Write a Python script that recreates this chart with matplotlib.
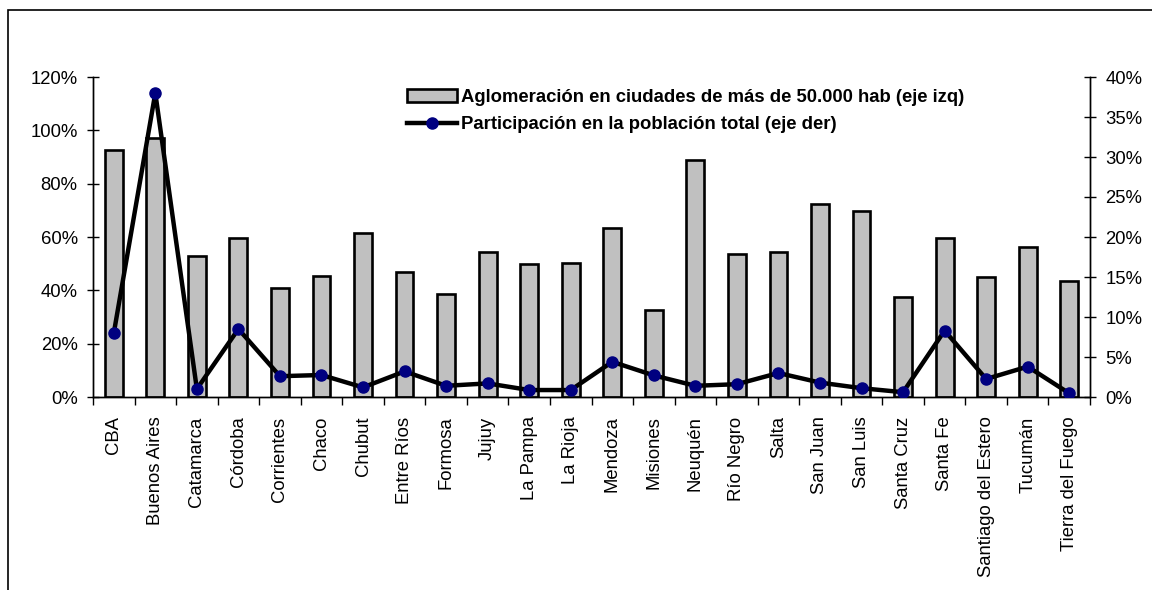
import numpy as np
import matplotlib
matplotlib.use("Agg")
import matplotlib.pyplot as plt
from matplotlib.patches import Rectangle
from matplotlib.ticker import FuncFormatter, MultipleLocator

plt.rcParams['font.family'] = ['Liberation Sans', 'DejaVu Sans']

provincias = ["CBA", "Buenos Aires", "Catamarca", "Córdoba", "Corrientes", "Chaco",
              "Chubut", "Entre Ríos", "Formosa", "Jujuy", "La Pampa", "La Rioja",
              "Mendoza", "Misiones", "Neuquén", "Río Negro", "Salta", "San Juan",
              "San Luis", "Santa Cruz", "Santa Fe", "Santiago del Estero", "Tucumán",
              "Tierra del Fuego"]

# share of population living in cities above 50.000 inhabitants (left axis)
aglomeracion = [0.926, 0.972, 0.530, 0.595, 0.410, 0.454, 0.616, 0.468, 0.385,
                0.543, 0.498, 0.502, 0.635, 0.326, 0.888, 0.535, 0.544, 0.724,
                0.697, 0.374, 0.595, 0.450, 0.564, 0.436]

# share of the national population (right axis)
participacion = [0.0796, 0.380, 0.010, 0.085, 0.026, 0.0275, 0.012, 0.032, 0.014,
                 0.017, 0.0087, 0.0087, 0.044, 0.027, 0.014, 0.016, 0.030, 0.018,
                 0.011, 0.006, 0.083, 0.0225, 0.038, 0.0046]

lbl_bar = "Aglomeración en ciudades de más de 50.000 hab (eje izq)"
lbl_line = "Participación en la población total (eje der)"

fs = 13.3
fig = plt.figure(figsize=(11.52, 5.9), dpi=100)
ax = fig.add_axes([93 / 1152, 193 / 590, 997 / 1152, 320 / 590])

x = np.arange(len(provincias))
bars = ax.bar(x, aglomeracion, width=0.43, color="#C0C0C0", edgecolor="black",
              linewidth=1.9, label=lbl_bar, zorder=2)
ax.set_xlim(-0.5, len(provincias) - 0.5)
ax.set_ylim(0, 1.2)
ax.yaxis.set_major_locator(MultipleLocator(0.2))
ax.yaxis.set_major_formatter(FuncFormatter(lambda v, p: f"{v * 100:.0f}%"))

ax.set_xticks(x)
ax.set_xticklabels(provincias, rotation=90, fontsize=fs)
ax.tick_params(axis="x", which="major", length=0, pad=14)
ax.set_xticks(np.arange(-0.5, len(provincias)), minor=True)
ax.tick_params(axis="x", which="minor", length=6, width=1, direction="out")
ax.tick_params(axis="y", labelsize=fs, length=8, width=1, direction="inout", pad=7)

ax2 = ax.twinx()
line, = ax2.plot(x, participacion, color="black", lw=3.2, marker="o", markersize=8,
                 markerfacecolor="#000080", markeredgecolor="#000080",
                 label=lbl_line, zorder=3)
ax2.set_ylim(0, 0.4)
ax2.yaxis.set_major_locator(MultipleLocator(0.05))
ax2.yaxis.set_major_formatter(FuncFormatter(lambda v, p: f"{v * 100:.0f}%"))
ax2.tick_params(axis="y", labelsize=fs, length=8, width=1, direction="inout", pad=7)

for a in (ax, ax2):
    a.spines["top"].set_visible(False)
    for s in ("left", "right", "bottom"):
        a.spines[s].set_linewidth(1)

leg = ax2.legend([bars, line], [lbl_bar, lbl_line], loc="upper left",
                 bbox_to_anchor=(398 / 1152, 1 - 80 / 590),
                 bbox_transform=fig.transFigure, frameon=False,
                 prop={"weight": "bold", "size": fs}, handlelength=2.7,
                 handletextpad=0.2, labelspacing=0.55, borderpad=0)

# outer chart-area frame
fig.add_artist(Rectangle((8 / 1152, -0.1), 1.2, 1 - 10 / 590 + 0.1,
                         transform=fig.transFigure, fill=False,
                         edgecolor="black", linewidth=1.2))

fig.savefig("out.png", dpi=100)
